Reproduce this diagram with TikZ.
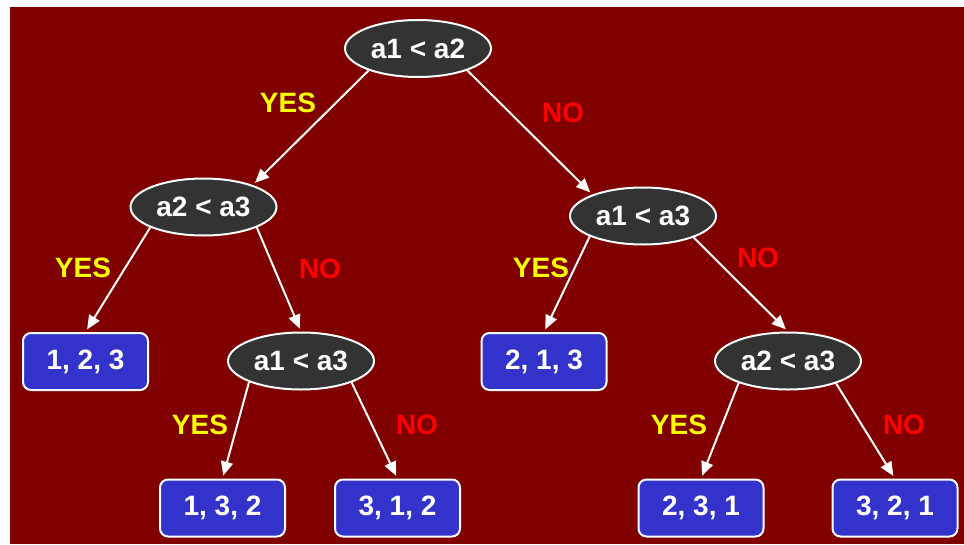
\documentclass[tikz,border=0pt]{standalone}
\usepackage{fontspec}
\setmainfont{Liberation Sans}
\usetikzlibrary{shapes.geometric,arrows.meta}
\definecolor{bg}{HTML}{800000}
\definecolor{ellfill}{HTML}{333333}
\definecolor{boxfill}{HTML}{3333CC}
\definecolor{yescol}{HTML}{FFFF00}
\definecolor{nocol}{HTML}{FF0000}
\begin{document}
\begin{tikzpicture}[x=1pt,y=-1pt,
  lbl/.style={font=\fontsize{28}{30}\selectfont\bfseries},
  test/.style={ellipse,draw=white,line width=2pt,fill=ellfill,minimum width=146pt,minimum height=57pt,inner sep=0pt,text=white,lbl},
  leaf/.style={rectangle,rounded corners=8pt,draw=white,line width=2pt,fill=boxfill,minimum width=125pt,minimum height=57pt,inner sep=0pt,text=white,lbl},
  arr/.style={draw=white,line width=2pt,-{Triangle[length=14pt,width=12pt]},shorten >=3pt},
  yes/.style={text=yescol,lbl,inner sep=0pt},
  no/.style={text=nocol,lbl,inner sep=0pt}]
\useasboundingbox (0,0) rectangle (964,544);
\fill[bg] (10,7) rectangle (964,544);

\node[test] (root) at (418,48.5) {a1 < a2};
\node[test] (L) at (203.5,207) {a2 < a3};
\node[test] (R) at (643,216) {a1 < a3};
\node[test] (M) at (301,361) {a1 < a3};
\node[test] (RB) at (788,361) {a2 < a3};

\node[leaf] (B123) at (85.5,361.5) {1, 2, 3};
\node[leaf] (B213) at (544,361.5) {2, 1, 3};
\node[leaf] (B132) at (222.5,508) {1, 3, 2};
\node[leaf] (B312) at (397.5,508) {3, 1, 2};
\node[leaf] (B231) at (701,508) {2, 3, 1};
\node[leaf] (B321) at (895,508) {3, 2, 1};

\draw[arr] (root.204) -- (L.24);
\draw[arr] (root.336) -- (R.157);
\draw[arr] (L.201) -- (B123.north);
\draw[arr] (L.339) -- (M.north);
\draw[arr] (R.201) -- (B213.north);
\draw[arr] (R.337) -- (RB.north);
\draw[arr] (M.202) -- (B132.north);
\draw[arr] (M.337) -- (B312.north);
\draw[arr] (RB.204) -- (B231.north);
\draw[arr] (RB.335) -- (B321.north);

\node[yes] (y1) at (288,103) {YES};
\node[no] (n1) at (563,113) {NO};
\node[yes] (y2) at (83,268) {YES};
\node[no] (n2) at (320,269) {NO};
\node[yes] (y3) at (541,268) {YES};
\node[no] (n3) at (758,258) {NO};
\node[yes] (y4) at (200,425) {YES};
\node[no] (n4) at (417,425) {NO};
\node[yes] (y5) at (679,425) {YES};
\node[no] (n5) at (904,425) {NO};
\end{tikzpicture}
\end{document}
